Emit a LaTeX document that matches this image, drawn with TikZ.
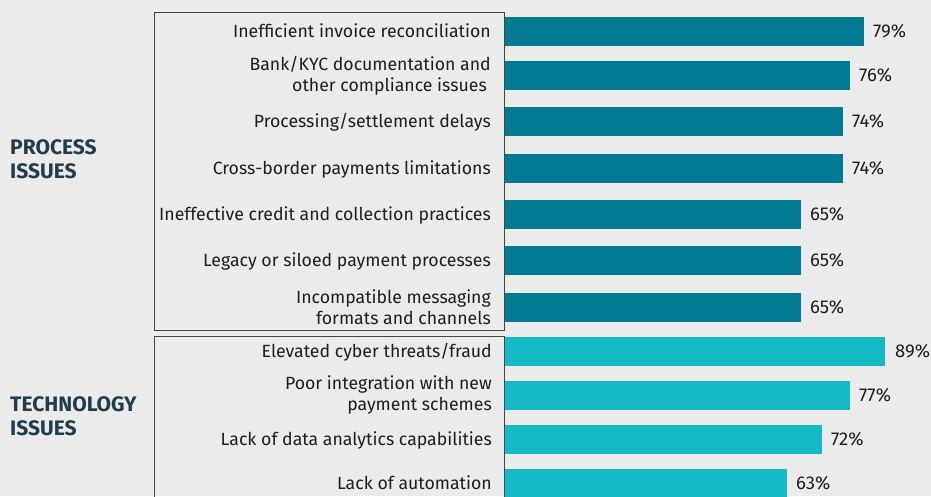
\documentclass[tikz,border=0pt]{standalone}
\usepackage{fontspec}
\setmainfont{Fira Sans}
\definecolor{bg}{HTML}{EBEBEB}
\definecolor{procbar}{HTML}{007B93}
\definecolor{techbar}{HTML}{14BBC6}
\definecolor{grouptxt}{HTML}{213D4D}
\definecolor{txt}{HTML}{1E1E1E}
\definecolor{boxline}{HTML}{454545}
\begin{document}
\begin{tikzpicture}[x=1pt,y=-1pt,
  cat/.style={anchor=east, align=right, font=\fontsize{17.7}{21}\selectfont, text=txt, inner sep=0pt},
  catone/.style={anchor=base east, font=\fontsize{17.7}{21}\selectfont, text=txt, inner sep=0pt},
  val/.style={anchor=base west, font=\fontsize{18.5}{21}\selectfont, text=txt, inner sep=0pt},
  grp/.style={anchor=base west, align=left, font=\fontsize{21}{24}\selectfont\bfseries, text=grouptxt, inner sep=0pt},
  pbar/.style={fill=procbar, draw=none},
  tbar/.style={fill=techbar, draw=none},
  groupbox/.style={draw=boxline, line width=1pt}]
\useasboundingbox (0,0) rectangle (931,496);
\fill[bg] (0,0) rectangle (931,496);

% group boxes
\draw[groupbox] (154,12) rectangle (504.5,330.7);
\draw[groupbox] (154,336) rectangle (504.5,510);

% group labels
\node[grp] (gproc) at (10,178.3) {PROCESS\\ISSUES};
\node[grp] (gtech) at (10,435.5) {TECHNOLOGY\\ISSUES};

% process bars
\fill[pbar] (505,17) rectangle (864,45.7);
\fill[pbar] (505,61) rectangle (850,89.7);
\fill[pbar] (505,107) rectangle (843,135.7);
\fill[pbar] (505,154) rectangle (843,182.7);
\fill[pbar] (505,200) rectangle (801,228.7);
\fill[pbar] (505,246) rectangle (801,274.7);
\fill[pbar] (505,293) rectangle (801,321.7);
% technology bars
\fill[tbar] (505,337) rectangle (885,365.7);
\fill[tbar] (505,381) rectangle (850,409.7);
\fill[tbar] (505,425) rectangle (822,453.7);
\fill[tbar] (505,469) rectangle (787,497.7);

% category labels
\node[catone] (c1) at (491,37.5) {Inefficient invoice reconciliation};
\node[cat] (c2) at (491,75.3) {Bank/KYC documentation and\\other compliance issues\hspace*{4pt}};
\node[catone] (c3) at (491,127.5) {Processing/settlement delays};
\node[catone] (c4) at (491,174.5) {Cross-border payments limitations};
\node[catone] (c5) at (491,220.5) {Ineffective credit and collection practices};
\node[catone] (c6) at (491,266.5) {Legacy or siloed payment processes};
\node[cat] (c7) at (491,307.3) {Incompatible messaging\\formats and channels};
\node[catone] (c8) at (492,357.5) {Elevated cyber threats/fraud};
\node[cat] (c9) at (492,395.3) {Poor integration with new\\payment schemes};
\node[catone] (c10) at (492,445.5) {Lack of data analytics capabilities};
\node[catone] (c11) at (492,489.5) {Lack of automation};

% values
\node[val] (v1) at (873,37.5) {79\%};
\node[val] (v2) at (859,81.5) {76\%};
\node[val] (v3) at (852,127.5) {74\%};
\node[val] (v4) at (852,174.5) {74\%};
\node[val] (v5) at (810,220.5) {65\%};
\node[val] (v6) at (810,266.5) {65\%};
\node[val] (v7) at (810,313.5) {65\%};
\node[val] (v8) at (895,357.5) {89\%};
\node[val] (v9) at (859,401.5) {77\%};
\node[val] (v10) at (831,445.5) {72\%};
\node[val] (v11) at (796,489.5) {63\%};
\end{tikzpicture}
\end{document}
